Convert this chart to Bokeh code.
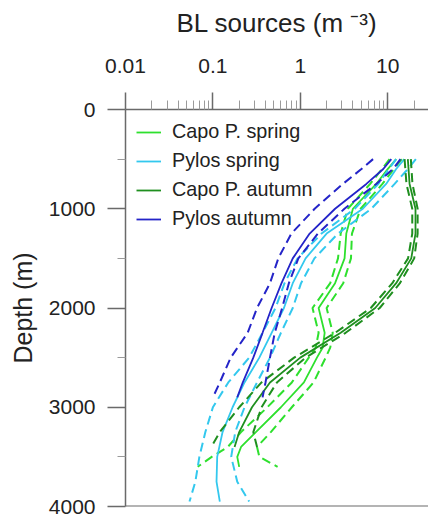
from bokeh.plotting import figure
from bokeh.models import Range1d, FixedTicker, Span, Legend
from bokeh.embed import file_html
from bokeh.resources import INLINE

# ---- data ----
series_names = ["Capo P. spring", "Pylos spring", "Capo P. autumn", "Pylos autumn"]
series_colors = ["#2ee02e", "#33c8ee", "#1f8f1f", "#2424c8"]

# Capo P. spring
depth_cs = [500, 600, 750, 1000, 1250, 1500, 1750, 2000, 2250, 2400, 2500, 2750, 3000, 3250, 3400, 3500, 3600]
mid_cs = [12.5, 10.0, 7.4, 4.0, 3.36, 3.21, 2.5, 1.62, 1.9, 1.8, 1.55, 1.1, 0.6, 0.31, 0.21, 0.19, 0.2]
lo_cs = [10.5, 8.6, 6.3, 3.5, 2.9, 2.7, 2.2, 1.38, 1.62, 1.5, 1.25, 0.8, 0.42, 0.21, 0.148, 0.097, 0.067]
hi_cs = [14.5, 11.8, 8.7, 4.9, 3.9, 3.8, 3.1, 2.0, 2.35, 2.2, 1.95, 1.42, 0.8, 0.46, 0.32, 0.34, 0.55]

# Pylos spring
depth_ps = [500, 600, 750, 1000, 1250, 1500, 1750, 2000, 2250, 2500, 2750, 3000, 3250, 3500, 3750, 3950]
mid_ps = [15.5, 12.5, 9.6, 5.2, 2.0, 1.15, 0.82, 0.65, 0.47, 0.34, 0.23, 0.168, 0.129, 0.112, 0.11, 0.12]
lo_ps = [12.5, 10.3, 7.8, 4.2, 1.75, 0.93, 0.66, 0.52, 0.37, 0.26, 0.15, 0.10, 0.082, 0.07, 0.063, 0.054]
hi_ps = [21.0, 17.0, 12.0, 6.5, 2.7, 1.45, 1.02, 0.82, 0.6, 0.45, 0.32, 0.23, 0.18, 0.162, 0.19, 0.26]

# Capo P. autumn
depth_ca = [500, 750, 1000, 1250, 1500, 1750, 2000, 2250, 2500, 2750, 3000, 3250, 3400]
mid_ca = [17.0, 17.8, 20.8, 20.8, 18.6, 12.5, 7.2, 2.9, 1.0, 0.45, 0.28, 0.2, 0.177]
lo_ca = [15.6, 16.4, 19.1, 19.1, 17.1, 11.3, 6.4, 2.5, 0.85, 0.36, 0.2, 0.12, 0.096]
hi_ca = [18.4, 19.2, 22.0, 22.0, 20.1, 13.8, 8.1, 3.3, 1.15, 0.54, 0.36, 0.29, 0.32]

# Pylos autumn
depth_pa = [500, 600, 750, 1000, 1250, 1500, 1750, 2000, 2250, 2500, 2750, 2900]
mid_pa = [11.0, 8.9, 5.7, 2.5, 1.28, 0.82, 0.61, 0.47, 0.37, 0.29, 0.22, 0.19]
lo_pa = [6.8, 5.0, 3.07, 1.46, 0.79, 0.56, 0.45, 0.32, 0.25, 0.16, 0.12, 0.10]
hi_pa = [14.0, 11.5, 7.4, 3.2, 1.59, 0.95, 0.74, 0.62, 0.51, 0.45, 0.40, 0.37]

x_ticks = [0.01, 0.1, 1, 10, 100]
x_tick_labels = ["0.01", "0.1", "1", "10", "100"]
y_ticks = [0, 1000, 2000, 3000, 4000]
y_tick_labels = ["0", "1000", "2000", "3000", "4000"]
y_minor = [500, 1500, 2500, 3500]

x_title = "BL sources (m \u207b\u00b3)"
y_title = "Depth (m)"

FONT = "Liberation Sans"
TXT = "#222222"
AX = "#6a6a6a"

p = figure(
    frame_width=303, frame_height=397,
    x_axis_type="log", x_axis_location="above",
    x_range=Range1d(0.01, 29.3), y_range=Range1d(4000, 0),
    output_backend="svg", toolbar_location=None,
    min_border_left=125, min_border_top=109, min_border_right=0, min_border_bottom=10,
)
p.outline_line_color = None
p.xgrid.visible = False
p.ygrid.visible = False
p.background_fill_color = "white"
p.border_fill_color = "white"

series = [
    (depth_cs, mid_cs, lo_cs, hi_cs),
    (depth_ps, mid_ps, lo_ps, hi_ps),
    (depth_ca, mid_ca, lo_ca, hi_ca),
    (depth_pa, mid_pa, lo_pa, hi_pa),
]
items = []
for name, color, (d, m, lo, hi) in zip(series_names, series_colors, series):
    p.line(lo, d, line_color=color, line_width=2.0, line_dash="9 5")
    p.line(hi, d, line_color=color, line_width=2.0, line_dash="9 5")
    r = p.line(m, d, line_color=color, line_width=1.8)
    items.append((name, [r]))

legend = Legend(items=items, location="top_left")
legend.label_text_font = FONT
legend.label_text_font_size = "19.8px"
legend.label_text_color = TXT
legend.glyph_width = 25
legend.glyph_height = 20
legend.label_height = 20
legend.spacing = 6
legend.label_standoff = 11
legend.margin = 3
legend.padding = 8
legend.border_line_alpha = 0
legend.background_fill_alpha = 0
p.add_layout(legend)

# x axis (top)
xa = p.xaxis[0]
xa.ticker = FixedTicker(ticks=x_ticks,
                        minor_ticks=[m * 10.0 ** e for e in range(-2, 2) for m in range(2, 10)])
xa.major_label_overrides = dict(zip(x_ticks, x_tick_labels))
xa.axis_label = x_title
xa.axis_label_text_font = FONT
xa.axis_label_text_font_size = "26px"
xa.axis_label_text_font_style = "normal"
xa.axis_label_text_color = TXT
xa.axis_label_standoff = 18
xa.major_label_text_font = FONT
xa.major_label_text_font_size = "21px"
xa.major_label_text_color = TXT
xa.major_label_standoff = 20
xa.axis_line_color = AX
xa.axis_line_width = 1.5
xa.major_tick_line_color = AX
xa.major_tick_line_width = 1.5
xa.major_tick_out = 17
xa.major_tick_in = 0
xa.minor_tick_line_color = "#9a9a9a"
xa.minor_tick_line_width = 1
xa.minor_tick_out = 9
xa.minor_tick_in = 0

# y axis (left)
ya = p.yaxis[0]
ya.ticker = FixedTicker(ticks=y_ticks, minor_ticks=y_minor)
ya.major_label_overrides = dict(zip(y_ticks, y_tick_labels))
ya.axis_label = y_title
ya.axis_label_text_font = FONT
ya.axis_label_text_font_size = "25px"
ya.axis_label_text_font_style = "normal"
ya.axis_label_text_color = TXT
ya.axis_label_standoff = 9
ya.major_label_text_font = FONT
ya.major_label_text_font_size = "21px"
ya.major_label_text_color = TXT
ya.major_label_standoff = 12
ya.axis_line_color = AX
ya.axis_line_width = 1.5
ya.major_tick_line_color = AX
ya.major_tick_line_width = 1.5
ya.major_tick_out = 18
ya.major_tick_in = 0
ya.minor_tick_line_color = "#9a9a9a"
ya.minor_tick_line_width = 1
ya.minor_tick_out = 8
ya.minor_tick_in = 0

p.add_layout(Span(location=4000, dimension="width", line_color=AX, line_width=2))

open("out.html", "w").write(file_html(p, INLINE))
